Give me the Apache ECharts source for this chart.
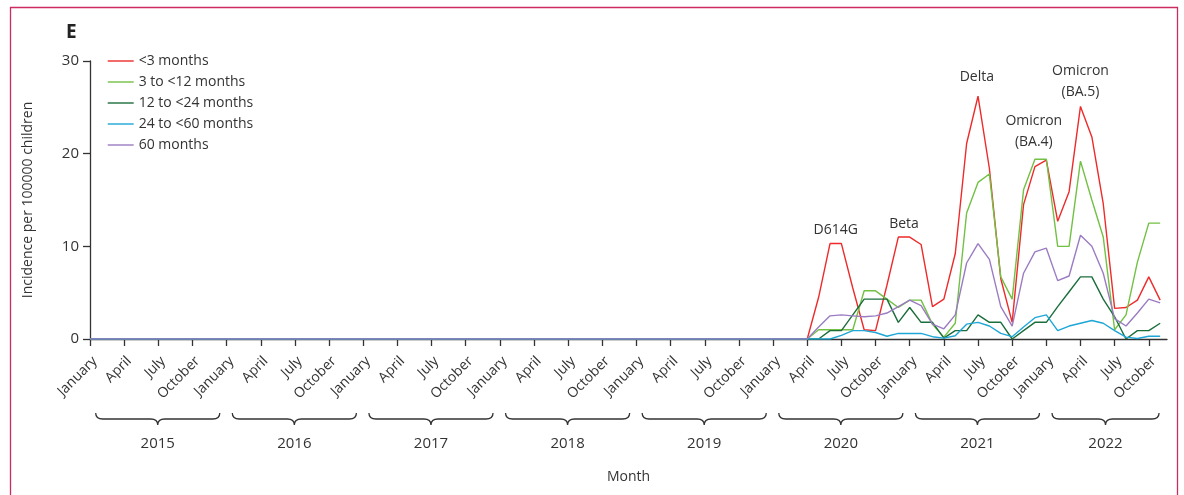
<!DOCTYPE html>
<html><head><meta charset="utf-8">
<script src="https://cdn.jsdelivr.net/npm/echarts@6/dist/echarts.min.js"></script>
<style>html,body{margin:0;padding:0;background:#fff}#c{width:1184px;height:495px}</style>
</head><body><div id="c"></div>
<script>
// Monthly incidence per 100000 children, January 2015 – November 2022
const tickMonthNames = ['January', 'April', 'July', 'October'];
const years = [2015, 2016, 2017, 2018, 2019, 2020, 2021, 2022];
const seriesNames = ['<3 months', '3 to <12 months', '12 to <24 months', '24 to <60 months', '60 months'];

const under3m = [
  0,0,0,0,0,0,0,0,0,0,0,0,
  0,0,0,0,0,0,0,0,0,0,0,0,
  0,0,0,0,0,0,0,0,0,0,0,0,
  0,0,0,0,0,0,0,0,0,0,0,0,
  0,0,0,0,0,0,0,0,0,0,0,0,
  0,0,0, 0,4.5,10.3,10.3,5.5,1.0,0.9,5.8,11.0,
  11.0,10.2,3.5,4.3,9.2,21.1,26.2,18.4,6.5,1.8,14.5,18.6,
  19.3,12.7,15.9,25.1,21.8,14.6,3.3,3.4,4.2,6.7,4.2
];
const m3to12 = [
  0,0,0,0,0,0,0,0,0,0,0,0,
  0,0,0,0,0,0,0,0,0,0,0,0,
  0,0,0,0,0,0,0,0,0,0,0,0,
  0,0,0,0,0,0,0,0,0,0,0,0,
  0,0,0,0,0,0,0,0,0,0,0,0,
  0,0,0, 0,1.0,1.0,1.0,1.0,5.2,5.2,4.3,3.4,
  4.2,4.2,1.6,0.2,1.7,13.6,16.9,17.8,6.7,4.3,16.1,19.4,
  19.4,10.0,10.0,19.2,15.0,11.0,1.0,2.6,8.3,12.5,12.5
];
const m12to24 = [
  0,0,0,0,0,0,0,0,0,0,0,0,
  0,0,0,0,0,0,0,0,0,0,0,0,
  0,0,0,0,0,0,0,0,0,0,0,0,
  0,0,0,0,0,0,0,0,0,0,0,0,
  0,0,0,0,0,0,0,0,0,0,0,0,
  0,0,0, 0,0,0.9,0.9,2.6,4.3,4.3,4.3,1.8,
  3.4,1.8,1.8,0.1,0.9,0.9,2.6,1.8,1.8,0,0.9,1.8,
  1.8,3.5,5.1,6.7,6.7,4.3,2.4,0,0.9,0.9,1.7
];
const m24to60 = [
  0,0,0,0,0,0,0,0,0,0,0,0,
  0,0,0,0,0,0,0,0,0,0,0,0,
  0,0,0,0,0,0,0,0,0,0,0,0,
  0,0,0,0,0,0,0,0,0,0,0,0,
  0,0,0,0,0,0,0,0,0,0,0,0,
  0,0,0, 0,0,0,0.4,0.9,0.9,0.7,0.3,0.6,
  0.6,0.6,0.25,0.1,0.35,1.6,1.8,1.4,0.6,0.25,1.3,2.3,
  2.6,0.9,1.4,1.7,2.0,1.7,0.9,0.2,0.05,0.3,0.3
];
const m60 = [
  0,0,0,0,0,0,0,0,0,0,0,0,
  0,0,0,0,0,0,0,0,0,0,0,0,
  0,0,0,0,0,0,0,0,0,0,0,0,
  0,0,0,0,0,0,0,0,0,0,0,0,
  0,0,0,0,0,0,0,0,0,0,0,0,
  0,0,0, 0,1.3,2.5,2.6,2.5,2.4,2.5,2.8,3.5,
  4.2,3.6,1.6,1.1,2.6,8.2,10.3,8.6,3.5,1.4,7.1,9.4,
  9.8,6.3,6.8,11.2,10.0,7.1,2.2,1.4,2.8,4.3,3.9
];
// Variant annotations: [month index, value, text]
const annotations = [
  [65.5, 11.8, 'D614G'],
  [71.5, 12.4, 'Beta'],
  [77.9, 28.3, 'Delta'],
  [82.9, 22.4, 'Omicron\n(BA.4)'],
  [87.0, 27.8, 'Omicron\n(BA.5)']
];

const colors = ['#ee2a2a', '#72c044', '#1b6e3c', '#1ea6d6', '#9b7cc2'];
const allSeries = [under3m, m3to12, m12to24, m24to60, m60];
const lastIdx = under3m.length - 1;
const FONT = 'Open Sans';
const tickValues = [];
for (let m = 0; m <= lastIdx; m += 3) tickValues.push(m);

const chart = echarts.init(document.getElementById('c'));
const lineSeries = allSeries.map((arr, k) => ({
  name: seriesNames[k],
  type: 'line',
  symbol: 'none',
  data: arr.map((v, i) => [i, v]),
  lineStyle: { width: 1.4, color: colors[k] },
  itemStyle: { color: colors[k] },
  z: 3
}));

chart.setOption({
  animation: false,
  textStyle: { fontFamily: FONT },
  title: {
    text: 'E', left: 61, top: 18,
    textStyle: { fontSize: 19, fontWeight: 'bold', color: '#222', fontFamily: FONT }
  },
  graphic: [{
    type: 'rect', shape: { x: 10.5, y: 7.5, width: 1167, height: 520 },
    style: { fill: 'none', stroke: '#cc2b62', lineWidth: 1.3 }, silent: true
  }],
  legend: {
    data: seriesNames, orient: 'vertical', left: 107, top: 54,
    itemWidth: 26, itemHeight: 14, itemGap: 7, padding: 0,
    itemStyle: { opacity: 0 },
    lineStyle: { width: 1.4 },
    textStyle: { fontSize: 14, color: '#333', fontFamily: FONT }
  },
  grid: { left: 90, right: 17, top: 61, bottom: 156, containLabel: false },
  xAxis: {
    type: 'value', min: 0, max: 94.6,
    name: 'Month', nameLocation: 'middle', nameGap: 131,
    nameTextStyle: { fontSize: 14, color: '#333', fontFamily: FONT },
    axisLine: { show: true, lineStyle: { color: '#333', width: 1.3 } },
    axisTick: { show: true, length: 7, customValues: tickValues, lineStyle: { color: '#333', width: 1.3 } },
    axisLabel: {
      customValues: tickValues, rotate: 45, margin: 15, verticalAlign: 'top',
      fontSize: 14, color: '#333', fontFamily: FONT,
      formatter: v => tickMonthNames[Math.round(v / 3) % 4]
    },
    splitLine: { show: false }
  },
  yAxis: {
    type: 'value', min: 0, max: 30, interval: 10,
    name: 'Incidence per 100000 children', nameLocation: 'middle', nameGap: 55,
    nameTextStyle: { fontSize: 14, color: '#333', fontFamily: FONT },
    axisLine: { show: true, lineStyle: { color: '#333', width: 1.3 } },
    axisTick: { show: true, length: 7, lineStyle: { color: '#333', width: 1.3 } },
    axisLabel: { margin: 11, fontSize: 15, color: '#333', fontFamily: FONT },
    splitLine: { show: false }
  },
  series: lineSeries.concat([
    {
      type: 'custom', name: 'years', clip: false, silent: true, z: 2,
      data: years.map((y, i) => [i * 12, 0, y]),
      encode: { x: 0, y: 1 },
      renderItem: (params, api) => {
        const start = api.value(0) + 0.5;
        const end = Math.min(api.value(0) + 11.4, lastIdx - 0.1);
        const p0 = api.coord([start, 0]);
        const p1 = api.coord([end, 0]);
        const base = p0[1];
        const x0 = p0[0], x1 = p1[0], xm = (x0 + x1) / 2;
        const top = base + 74, mid = base + 80, tip = base + 86;
        const d = `M${x0} ${top} Q${x0} ${mid} ${x0 + 7} ${mid} L${xm - 7} ${mid} Q${xm} ${mid} ${xm} ${tip} Q${xm} ${mid} ${xm + 7} ${mid} L${x1 - 7} ${mid} Q${x1} ${mid} ${x1} ${top}`;
        return {
          type: 'group',
          children: [
            { type: 'path', shape: { pathData: d }, style: { fill: 'none', stroke: '#333', lineWidth: 1.3 } },
            { type: 'text', x: xm, y: base + 105,
              style: { text: String(api.value(2)), fill: '#333', font: `15px "${FONT}"`, align: 'center', verticalAlign: 'middle' } }
          ]
        };
      }
    },
    {
      type: 'custom', name: 'variants', clip: false, silent: true, z: 4,
      data: annotations.map(a => [a[0], a[1]]),
      encode: { x: 0, y: 1 },
      renderItem: (params, api) => {
        const p = api.coord([api.value(0), api.value(1)]);
        return { type: 'text', x: p[0], y: p[1],
          style: { text: annotations[params.dataIndex][2], fill: '#333', font: `14px "${FONT}"`,
                   align: 'center', verticalAlign: 'middle', lineHeight: 21 } };
      }
    }
  ])
});
</script>
</body></html>
